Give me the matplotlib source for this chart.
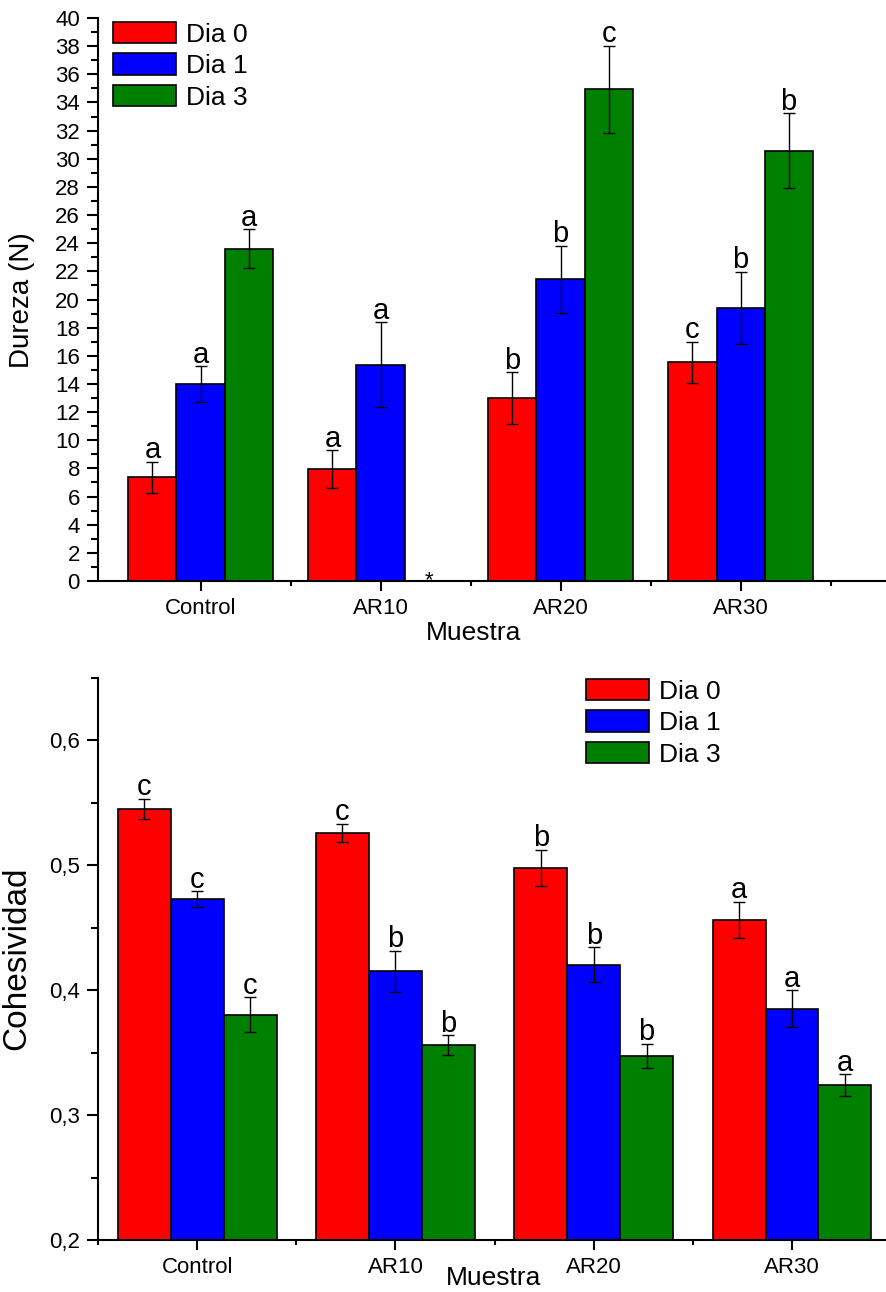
import matplotlib
matplotlib.use('Agg')

import matplotlib.pyplot as plt
import numpy as np
from matplotlib.ticker import MultipleLocator, FixedLocator, FuncFormatter

plt.rcParams['font.family'] = ['Liberation Sans', 'DejaVu Sans']

# Datos
muestras = ['Control', 'AR10', 'AR20', 'AR30']
dias = ['Dia 0', 'Dia 1', 'Dia 3']
colores = ['#ff0000', '#0000ff', '#008000']

# Dureza (N); AR10 Dia 3 sin dato (*)
dureza_d0 = [7.37, 7.96, 12.98, 15.54]
dureza_d1 = [13.97, 15.37, 21.43, 19.40]
dureza_d3 = [23.61, np.nan, 34.93, 30.57]
dureza_err_d0 = [1.12, 1.32, 1.84, 1.46]
dureza_err_d1 = [1.28, 3.03, 2.38, 2.56]
dureza_err_d3 = [1.38, np.nan, 3.10, 2.65]
dureza_letras_d0 = ['a', 'a', 'b', 'c']
dureza_letras_d1 = ['a', 'a', 'b', 'b']
dureza_letras_d3 = ['a', '', 'c', 'b']

# Cohesividad
coh_d0 = [0.545, 0.526, 0.498, 0.4565]
coh_d1 = [0.4728, 0.4152, 0.4203, 0.3853]
coh_d3 = [0.3803, 0.356, 0.3477, 0.324]
coh_err_d0 = [0.0083, 0.0074, 0.0144, 0.0143]
coh_err_d1 = [0.0063, 0.0165, 0.0141, 0.0147]
coh_err_d3 = [0.0141, 0.0081, 0.0096, 0.0088]
coh_letras_d0 = ['c', 'c', 'b', 'a']
coh_letras_d1 = ['c', 'b', 'b', 'a']
coh_letras_d3 = ['c', 'b', 'b', 'a']

ancho = 0.267
x = np.arange(1, len(muestras) + 1)


def barras(ax, series, errores, letras):
    for i, (vals, errs, lets) in enumerate(zip(series, errores, letras)):
        vals = np.array(vals, dtype=float)
        errs = np.array(errs, dtype=float)
        ok = ~np.isnan(vals)
        xi = x + (i - 1) * ancho
        ax.bar(xi[ok], vals[ok], ancho, color=colores[i], edgecolor='black',
               linewidth=1.2, label=dias[i], zorder=2)
        ax.errorbar(xi[ok], vals[ok], yerr=errs[ok], fmt='none', ecolor='black',
                    elinewidth=1.0, capsize=4.3, capthick=1.0, zorder=3)
        for xx, v, e, l in zip(xi, vals, errs, lets):
            if np.isnan(v):
                # muestra sin dato
                ax.annotate('*', (xx, ax.get_ylim()[0]), xytext=(0, -4),
                            textcoords='offset points', ha='center',
                            va='baseline', fontsize=16)
                continue
            ax.annotate(l, (xx, v + e), xytext=(0, 2.5), textcoords='offset points',
                        ha='center', va='baseline', fontsize=21)


def estilo(ax):
    for s in ['top', 'right']:
        ax.spines[s].set_visible(False)
    for s in ['left', 'bottom']:
        ax.spines[s].set_linewidth(1.5)
    ax.set_xticks(x)
    ax.set_xticklabels(muestras)
    ax.tick_params(axis='y', which='major', direction='out', length=8, width=1.5,
                   labelsize=16, pad=5)
    ax.tick_params(axis='y', which='minor', direction='out', length=5, width=1.5)
    ax.tick_params(axis='x', which='major', direction='out', length=7, width=1.5,
                   labelsize=16, pad=5)
    ax.tick_params(axis='x', which='minor', direction='out', length=3.5, width=1.5)


fig = plt.figure(figsize=(8.86, 12.92), dpi=100)

leyenda = dict(loc='upper left', bbox_transform=fig.transFigure, frameon=False,
               fontsize=19, handlelength=2.4, handleheight=0.87, handletextpad=0.35,
               labelspacing=0.25, borderpad=0, borderaxespad=0)

# Grafico superior: Dureza
ax1 = fig.add_axes([98 / 886, 1 - 581 / 1292, 788 / 886, 563 / 1292])
ax1.set_ylim(0, 40)
ax1.set_xlim(0.4306, 4.808)
barras(ax1, [dureza_d0, dureza_d1, dureza_d3],
       [dureza_err_d0, dureza_err_d1, dureza_err_d3],
       [dureza_letras_d0, dureza_letras_d1, dureza_letras_d3])
estilo(ax1)
ax1.yaxis.set_major_locator(MultipleLocator(2))
ax1.yaxis.set_minor_locator(MultipleLocator(1))
ax1.xaxis.set_minor_locator(FixedLocator([1.5, 2.5, 3.5, 4.5]))
ax1.set_ylabel('Dureza (N)', fontsize=20, va='center')
ax1.yaxis.set_label_coords(22 / 886, 1 - 300 / 1292, transform=fig.transFigure)
ax1.set_xlabel('Muestra', fontsize=19, va='center')
ax1.xaxis.set_label_coords(474 / 886, 1 - 633 / 1292, transform=fig.transFigure)
ax1.legend(bbox_to_anchor=(113 / 886, 1 - 22 / 1292), **leyenda)

# Grafico inferior: Cohesividad
ax2 = fig.add_axes([98 / 886, 1 - 1240 / 1292, 788 / 886, 562 / 1292])
ax2.set_ylim(0.2, 0.65)
ax2.set_xlim(0.5, 4.474)
barras(ax2, [coh_d0, coh_d1, coh_d3],
       [coh_err_d0, coh_err_d1, coh_err_d3],
       [coh_letras_d0, coh_letras_d1, coh_letras_d3])
estilo(ax2)
ax2.yaxis.set_major_locator(MultipleLocator(0.1))
ax2.yaxis.set_minor_locator(MultipleLocator(0.05))
ax2.yaxis.set_major_formatter(FuncFormatter(lambda v, p: f'{v:.1f}'.replace('.', ',')))
ax2.xaxis.set_minor_locator(FixedLocator([0.5, 1.5, 2.5, 3.5]))
ax2.set_ylabel('Cohesividad', fontsize=24, va='center')
ax2.yaxis.set_label_coords(17 / 886, 1 - 958 / 1292, transform=fig.transFigure)
ax2.set_xlabel('Muestra', fontsize=19, va='center')
ax2.xaxis.set_label_coords(494 / 886, 1 - 1278 / 1292, transform=fig.transFigure)
ax2.legend(bbox_to_anchor=(586 / 886, 1 - 679 / 1292), **leyenda)

fig.savefig('out.png', dpi=100)
